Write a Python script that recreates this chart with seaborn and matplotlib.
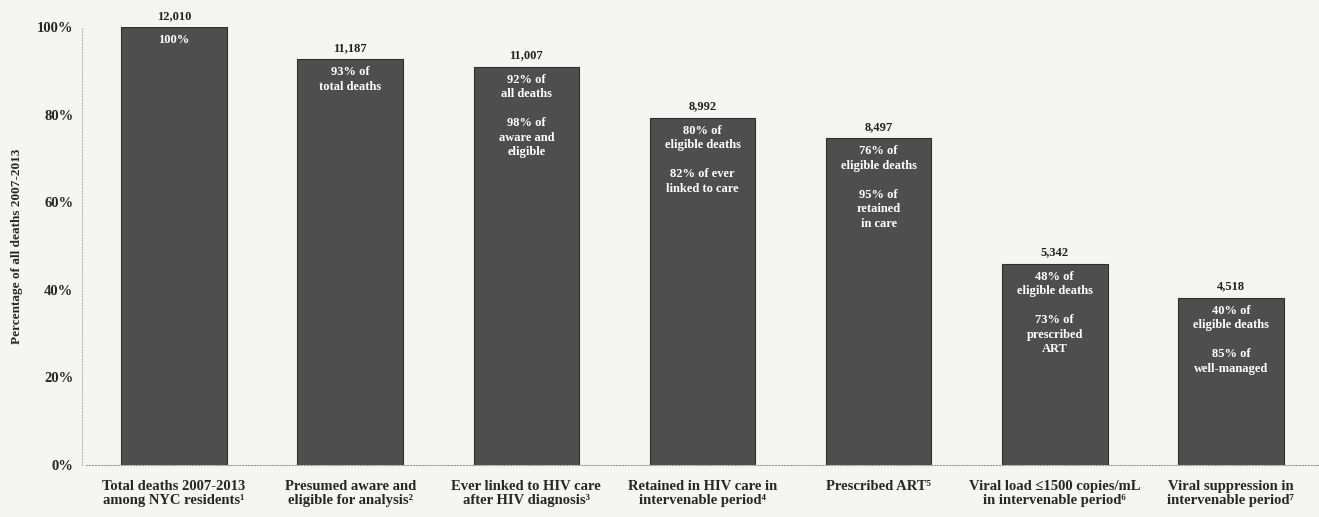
import pandas as pd
import seaborn as sns
import matplotlib.pyplot as plt
from matplotlib.ticker import PercentFormatter

categories = [
    'Total deaths 2007-2013\namong NYC residents¹',
    'Presumed aware and\neligible for analysis²',
    'Ever linked to HIV care\nafter HIV diagnosis³',
    'Retained in HIV care in\nintervenable period⁴',
    'Prescribed ART⁵',
    'Viral load ≤1500 copies/mL\nin intervenable period⁶',
    'Viral suppression in\nintervenable period⁷',
]
pct_all_deaths = [100.0, 92.6, 90.9, 79.3, 74.6, 46.0, 38.2]
counts = ['12,010', '11,187', '11,007', '8,992', '8,497', '5,342', '4,518']
inner_text = [
    '100%',
    '93% of\ntotal deaths',
    '92% of\nall deaths\n\n98% of\naware and\neligible',
    '80% of\neligible deaths\n\n82% of ever\nlinked to care',
    '76% of\neligible deaths\n\n95% of\nretained\nin care',
    '48% of\neligible deaths\n\n73% of\nprescribed\nART',
    '40% of\neligible deaths\n\n85% of\nwell-managed',
]

df = pd.DataFrame({'step': categories, 'pct': pct_all_deaths})

sns.set_style('white')
plt.rcParams['font.family'] = ['Liberation Serif', 'DejaVu Serif']
plt.rcParams['font.weight'] = 'bold'

fig = plt.figure(figsize=(13.19, 5.17), dpi=100, facecolor='#f5f5f3')
ax = fig.add_axes([0.0652, 0.1006, 0.9348, 0.8472])
ax.set_facecolor('#f5f5f3')

sns.barplot(data=df, x='step', y='pct', color='#4e4e4e', saturation=1,
            width=0.6, edgecolor='#2e2e2e', linewidth=0.8, ax=ax)

ax.set_xlim(-0.5, 6.5)
ax.set_ylim(0, 100)
ax.set_yticks([0, 20, 40, 60, 80, 100])
ax.yaxis.set_major_formatter(PercentFormatter(decimals=0))
ax.tick_params(axis='y', length=0, pad=6, labelsize=10.5)
ax.tick_params(axis='x', length=0, pad=11, labelsize=10.5)
for lab in ax.get_xticklabels():
    lab.set_fontweight('bold')
    lab.set_linespacing(1.1)
for lab in ax.get_yticklabels():
    lab.set_fontweight('bold')

for s in ['top', 'right']:
    ax.spines[s].set_visible(False)
ax.spines['left'].set_color('#b8b8b8')
ax.spines['left'].set_linestyle(':')
ax.spines['left'].set_position(('outward', 3))
ax.spines['bottom'].set_color('#9a9a9a')
ax.spines['bottom'].set_linestyle(':')

ax.set_xlabel('')
ax.set_ylabel('Percentage of all deaths 2007-2013', fontsize=9.5,
              fontweight='bold', labelpad=10)

for i, (v, c, t) in enumerate(zip(pct_all_deaths, counts, inner_text)):
    ax.text(i, v + 1.2, c, ha='center', va='bottom', fontsize=9,
            fontweight='bold', color='#222222', clip_on=False)
    ax.text(i, v - 1.6, t, ha='center', va='top', fontsize=9,
            fontweight='bold', color='white', linespacing=1.28)

plt.savefig('out.png', dpi=100, facecolor=fig.get_facecolor())
